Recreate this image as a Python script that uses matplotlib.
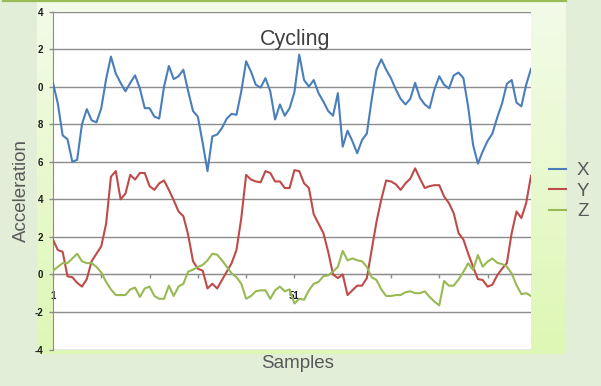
import matplotlib
matplotlib.use("Agg")
import matplotlib.pyplot as plt
from matplotlib.lines import Line2D
import numpy as np

# Accelerometer readings, one value per sample
acc_x = [10.2, 9.1, 7.4, 7.2, 6.0, 6.1, 8.0, 8.8, 8.2, 8.1, 8.85, 10.4, 11.6, 10.7, 10.2, 9.75,
         10.2,
         10.6, 9.9, 8.85, 8.85, 8.4, 8.3, 10.0, 11.1, 10.4, 10.55, 10.9, 9.75, 8.7, 8.4, 7.0, 5.5,
         7.35, 7.45, 7.8, 8.3, 8.55, 8.5, 9.75, 11.35, 10.8, 10.1, 9.95, 10.45, 9.75, 8.25, 9.05, 8.45, 8.85,
         9.7, 11.7, 10.35, 10.0, 10.35, 9.65, 9.2, 8.7, 8.45, 9.65, 6.8, 7.65, 7.1, 6.45, 7.15, 7.5, 9.3,
         10.9, 11.45, 10.9, 10.45, 9.85, 9.35, 9.05, 9.35, 10.2, 9.4, 9.05, 8.85, 9.85, 10.55, 10.1, 9.9,
         10.6, 10.75, 10.45, 8.9, 6.9, 5.9, 6.55, 7.1, 7.5, 8.35, 9.1, 10.15, 10.35, 9.15, 8.95, 10.1, 10.95]

acc_y = [1.85, 1.3, 1.2, -0.1, -0.15, -0.45, -0.65, -0.25, 0.7, 1.1, 1.5, 2.7, 5.2, 5.5, 4.0, 4.3,
         5.3, 5.05, 5.4, 5.4, 4.7, 4.5, 4.85, 5.0, 4.5, 3.95, 3.35, 3.1, 2.1, 0.7, 0.3, 0.2, -0.75,
         -0.5, -0.75, -0.3, 0.15, 0.6, 1.3, 3.0, 5.3, 5.05, 4.95, 4.9, 5.5, 5.4, 4.95, 4.95, 4.6, 4.6,
         5.55, 5.5, 4.85, 4.6, 3.2, 2.7, 2.2, 1.2, 0.0, -0.2, 0.0, -1.1, -0.85, -0.6, -0.6, -0.2,
         1.3, 2.8, 4.0, 5.0, 4.95, 4.8, 4.5, 4.85, 5.1, 5.65, 5.1, 4.6, 4.7, 4.75, 4.75, 4.15, 3.8,
         3.25, 2.2, 1.85, 1.1, 0.4, -0.25, -0.3, -0.65, -0.55, -0.05, 0.3, 0.6, 2.2, 3.35, 3.0, 3.8, 5.25]

acc_z = [0.2, 0.4, 0.6, 0.6, 0.85, 1.1, 0.7, 0.6, 0.6, 0.4, 0.1, -0.4, -0.8, -1.1, -1.1, -1.1,
         -0.8, -0.7, -1.2, -0.75, -0.65, -1.15, -1.3, -1.3, -0.6, -1.15, -0.65, -0.5, 0.15, 0.25, 0.4, 0.5, 0.75, 1.1,
         1.05, 0.75, 0.4, 0.05, -0.15, -0.5, -1.3, -1.15, -0.9, -0.85, -0.85, -1.3, -0.85, -0.65, -0.9, -0.8,
         -1.55, -1.3, -1.35, -0.85, -0.5, -0.4, -0.1, -0.05, 0.15, 0.4, 1.25, 0.75, 0.85, 0.75, 0.7, 0.4,
         -0.15, -0.3, -0.8, -1.15, -1.15, -1.1, -1.1, -0.95, -0.9, -1.0, -1.0, -0.9, -1.2, -1.45, -1.65, -0.35,
         -0.6, -0.6, -0.27, 0.14, 0.59, 0.23, 1.03, 0.41, 0.68, 0.85, 0.62, 0.55, 0.41, 0.05, -0.57, -1.05, -1.0, -1.15]

series_names = ["X", "Y", "Z"]
series_colors = ["#4a7ebb", "#be4b48", "#98b954"]

# the y labels as they show in the chart (leading digit cut off)
ytick_vals = [-4, -2, 0, 2, 4, 6, 8, 10, 12, 14]
ytick_text = ["-4", "-2", "0", "2", "4", "6", "8", "0", "2", "4"]
xtick_vals = [1, 11, 21, 31, 41, 51, 61, 71, 81, 91]
xtick_text = ["1", "", "", "", "", "51", "", "", "", ""]

W, H = 601, 386
samples = np.arange(1, len(acc_x) + 1)

plt.rcParams['font.family'] = ['Liberation Sans', 'DejaVu Sans']

fig = plt.figure(figsize=(W / 100, H / 100), dpi=100, facecolor="#e2eed8")

def box(x0, y0, x1, y1):
    # pixel box (top-left origin) -> figure fraction rect
    return [x0 / W, 1 - y1 / H, (x1 - x0) / W, (y1 - y0) / H]

# chart panel with soft vertical gradient
panel = fig.add_axes(box(37, 0, 566, 354), zorder=0)
top = np.array([243, 251, 233]) / 255.0
bot = np.array([222, 247, 180]) / 255.0
t = np.linspace(0, 1, 256)[:, None]
grad = (top[None, :] * (1 - t) + bot[None, :] * t)[:, None, :]
panel.imshow(grad, aspect="auto", extent=[0, 1, 0, 1], origin="upper")
panel.set_axis_off()
fig.add_artist(Line2D([3 / W, 566 / W], [1 - 0.8 / H, 1 - 0.8 / H],
                      transform=fig.transFigure, color="#9bbb59", lw=1.6))

# plot area
ax = fig.add_axes(box(53, 11.5, 531, 349.5), zorder=1)
ax.set_facecolor("white")
for name, vals, col in zip(series_names, [acc_x, acc_y, acc_z], series_colors):
    ax.plot(samples, vals, color=col, lw=1.5, label=name, zorder=3,
            solid_joinstyle="round")

ax.set_xlim(1, len(samples))
ax.set_ylim(-4, 14)
ax.set_yticks(ytick_vals)
ax.set_yticklabels(ytick_text)
ax.set_xticks(xtick_vals)
ax.set_xticklabels(xtick_text)

ax.yaxis.grid(True, color="#8c8c8c", lw=1.0, zorder=1)
ax.set_axisbelow(True)
for s in ["top", "right"]:
    ax.spines[s].set_visible(False)
ax.spines["left"].set_color("#8c8c8c")
ax.spines["bottom"].set_color("#8c8c8c")
ax.spines["bottom"].set_position(("data", 0))
ax.tick_params(axis="y", direction="out", length=3, width=1, color="#8c8c8c",
               pad=4, labelsize=7, labelcolor="#1a1a1a")
ax.tick_params(axis="x", direction="out", length=3, width=1, color="#8c8c8c",
               pad=9, labelsize=7, labelcolor="#1a1a2a")
for lab in ax.get_yticklabels() + ax.get_xticklabels():
    lab.set_fontweight("bold")
    lab.set_zorder(5)

# texts
fig.text(295 / W, 1 - 45 / H, "Cycling", ha="center", va="baseline",
         fontsize=15.5, color="#404040")
fig.text(21.5 / W, 1 - 190 / H, "Acceleration", rotation=90, ha="center",
         va="center", fontsize=13.5, color="#595959")
fig.text(298 / W, 1 - 368 / H, "Samples", ha="center", va="baseline",
         fontsize=13.5, color="#595959")

# legend
leg_line_y = [168.5, 189, 209.5]
leg_text_y = [175, 196, 216.5]
for name, col, ly, ty in zip(series_names, series_colors, leg_line_y, leg_text_y):
    fig.add_artist(Line2D([549 / W, 566 / W], [1 - ly / H, 1 - ly / H],
                          transform=fig.transFigure, color=col, lw=1.5))
    fig.text(577 / W, 1 - ty / H, name, ha="left", va="baseline",
             fontsize=13.5, color="#595959")

fig.savefig("out.png", dpi=100, facecolor=fig.get_facecolor())
